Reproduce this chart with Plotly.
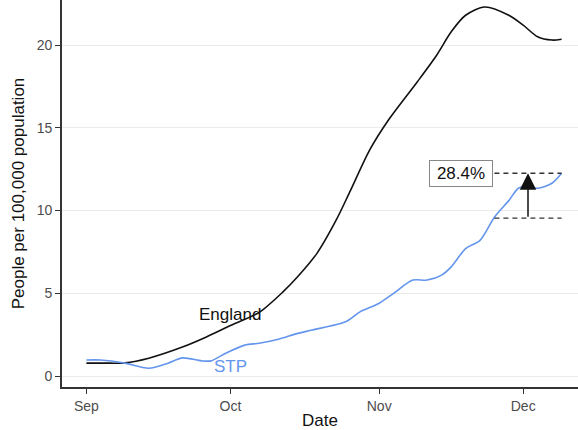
import plotly.graph_objects as go

# ---- data ----
england_dates = ["2020-09-01", "2020-09-05", "2020-09-09", "2020-09-14", "2020-09-21", "2020-09-26",
                 "2020-10-01", "2020-10-07", "2020-10-12", "2020-10-15", "2020-10-19", "2020-10-23",
                 "2020-10-26", "2020-10-30", "2020-11-03", "2020-11-09", "2020-11-13", "2020-11-16",
                 "2020-11-19", "2020-11-23", "2020-11-28", "2020-12-01", "2020-12-04", "2020-12-07",
                 "2020-12-09"]
england_values = [0.78, 0.78, 0.80, 1.08, 1.75, 2.36,
                  3.05, 3.85, 5.10, 6.00, 7.40, 9.40,
                  11.2, 13.65, 15.5, 17.8, 19.4, 20.8,
                  21.8, 22.3, 21.8, 21.2, 20.5, 20.3,
                  20.35]

stp_dates = ["2020-09-01", "2020-09-04", "2020-09-09", "2020-09-14", "2020-09-18", "2020-09-21",
             "2020-09-25", "2020-09-27", "2020-09-30", "2020-10-04", "2020-10-07", "2020-10-11",
             "2020-10-15", "2020-10-18", "2020-10-25", "2020-10-28", "2020-11-01", "2020-11-04",
             "2020-11-08", "2020-11-11", "2020-11-14", "2020-11-16", "2020-11-19", "2020-11-22",
             "2020-11-25", "2020-11-28", "2020-11-30", "2020-12-02", "2020-12-04", "2020-12-07",
             "2020-12-09"]
stp_values = [0.97, 0.97, 0.78, 0.47, 0.78, 1.10,
              0.92, 0.92, 1.38, 1.87, 1.98, 2.22,
              2.58, 2.78, 3.28, 3.88, 4.40, 5.00,
              5.80, 5.80, 6.10, 6.60, 7.70, 8.20,
              9.60, 10.6, 11.35, 11.45, 11.35, 11.65,
              12.25]

pct_change = 28.4
y_ticks = [0, 5, 10, 15, 20]
x_tick_dates = ["2020-09-01", "2020-10-01", "2020-11-01", "2020-12-01"]
x_tick_labels = ["Sep", "Oct", "Nov", "Dec"]

# annotation anchors
arrow_date = "2020-12-02"
segment_start = "2020-11-25"
segment_end = stp_dates[-1]
label_date = "2020-11-18"
top_value = stp_values[-1]
base_value = top_value / (1 + pct_change / 100)

BLUE = "#6495ED"
FONT = "Liberation Sans, Arial, sans-serif"

fig = go.Figure()
fig.add_trace(go.Scatter(x=england_dates, y=england_values, mode="lines",
                         line=dict(color="#111111", width=1.6, shape="spline", smoothing=0.8),
                         name="England", showlegend=False, hoverinfo="skip"))
fig.add_trace(go.Scatter(x=stp_dates, y=stp_values, mode="lines",
                         line=dict(color=BLUE, width=1.6, shape="spline", smoothing=0.8),
                         name="STP", showlegend=False, hoverinfo="skip"))

# dashed reference lines
for val in (top_value, base_value):
    fig.add_shape(type="line", xref="x", yref="y", x0=segment_start, x1=segment_end,
                  y0=val, y1=val, line=dict(color="#333333", width=1.4, dash="5px,4px"))

# arrow
fig.add_annotation(x=arrow_date, y=top_value, ax=arrow_date, ay=base_value,
                   xref="x", yref="y", axref="x", ayref="y", text="",
                   showarrow=True, arrowhead=2, arrowsize=2.2, arrowwidth=1.5,
                   arrowcolor="#111111")

# label box
fig.add_annotation(x=label_date, y=top_value, xref="x", yref="y",
                   text=f"{pct_change}%", showarrow=False, width=56,
                   font=dict(family=FONT, size=17, color="#111111"),
                   bgcolor="white", bordercolor="#888888", borderwidth=1, borderpad=3)

# line labels
fig.add_annotation(x="2020-10-01", y=3.7, text="England", showarrow=False,
                   font=dict(family=FONT, size=17, color="#111111"))
fig.add_annotation(x="2020-10-01", y=0.6, text="STP", showarrow=False,
                   font=dict(family=FONT, size=17, color=BLUE))

fig.update_layout(
    width=578, height=430,
    margin=dict(l=62, r=0, t=0, b=43),
    paper_bgcolor="white", plot_bgcolor="white",
    font=dict(family=FONT),
    xaxis=dict(
        range=["2020-08-26 22:00", "2020-12-12 10:00"],
        tickvals=x_tick_dates, ticktext=x_tick_labels,
        showgrid=False, zeroline=False, automargin=False,
        showline=True, linecolor="#333333", linewidth=1.6,
        ticks="outside", ticklen=5, tickcolor="#333333", tickwidth=1.2,
        tickfont=dict(size=14, color="#4d4d4d"),
        title=dict(text="Date", font=dict(size=17, color="#111111")),
    ),
    yaxis=dict(
        range=[-0.66, 22.72],
        tickvals=y_ticks,
        showgrid=True, gridcolor="#EBEBEB", gridwidth=1.2, zeroline=False, automargin=True,
        showline=True, linecolor="#333333", linewidth=1.6,
        ticks="outside", ticklen=5, tickcolor="#333333", tickwidth=1.2,
        tickfont=dict(size=14, color="#4d4d4d"),
        title=dict(text="People per 100,000 population", font=dict(size=17, color="#111111"), standoff=8),
    ),
)

fig.write_html("out.html", config={"displayModeBar": False},
               post_script="document.body.style.margin='0';document.body.style.overflow='hidden';")
